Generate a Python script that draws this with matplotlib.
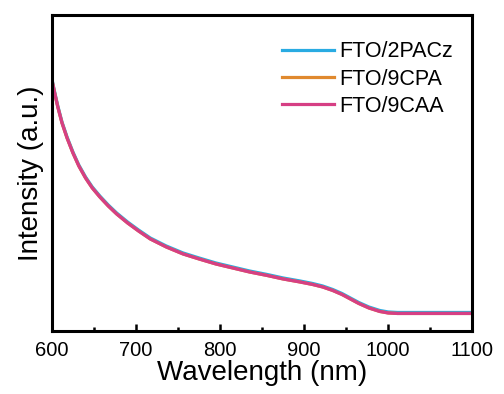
import numpy as np
import matplotlib.pyplot as plt
from matplotlib.ticker import MultipleLocator

plt.rcParams['font.family'] = ['Liberation Sans', 'DejaVu Sans']

# spectra (arbitrary units)
wavelength = [600, 603, 607, 612, 618, 625, 632, 640, 648, 657, 667, 677, 690,
              703, 717, 736, 756, 775, 795, 815, 835, 856, 875, 895, 910,
              922, 934, 945, 955, 965, 977, 990, 1000, 1011, 1030, 1050,
              1075, 1100]
i_2pacz = [252, 240, 225, 209, 194, 179, 166, 154, 144, 135, 126, 118, 109,
           101, 93, 85, 78, 73, 68, 64, 60, 56.5, 53, 50, 47.5,
           45, 41.5, 37.5, 33, 28.5, 24, 20.5, 19, 18.5, 18.5, 18.5,
           18.5, 18.5]
i_9cpa = [251, 239, 224, 208, 193, 178, 165, 153, 143, 134, 125, 117, 108,
          100, 92, 84, 77, 72, 67, 63, 59, 55.5, 52, 49, 46.5,
          44, 40.5, 36.5, 32, 27.5, 23, 19.5, 18, 17.5, 17.5, 17.5,
          17.5, 17.5]
i_9caa = [251, 239, 224, 208, 193, 178, 165, 153, 143, 134, 125, 117, 108,
          100, 92, 84, 77, 72, 67, 63, 59, 55.5, 52, 49, 46.5,
          44, 40.5, 36.5, 32, 27.5, 23, 19.5, 18, 17.5, 17.5, 17.5,
          17.5, 17.5]

labels = ["FTO/2PACz", "FTO/9CPA", "FTO/9CAA"]
colors = ["#29abe2", "#e0892e", "#d63f84"]

fig = plt.figure(figsize=(5.04, 3.94), dpi=100)
ax = fig.add_axes([0.103, 0.16, 0.834, 0.802])

for ys, lab, c in zip([i_2pacz, i_9cpa, i_9caa], labels, colors):
    ax.plot(wavelength, ys, color=c, lw=2.3, label=lab,
            solid_joinstyle='round')

ax.set_xlim(600, 1100)
ax.set_ylim(0, 316)
ax.xaxis.set_major_locator(MultipleLocator(100))
ax.xaxis.set_minor_locator(MultipleLocator(50))
ax.tick_params(axis='x', which='both', direction='in', width=1.8,
               labelsize=14.5, pad=7)
ax.tick_params(axis='x', which='major', length=5)
ax.tick_params(axis='x', which='minor', length=3)
ax.set_yticks([])
for s in ax.spines.values():
    s.set_linewidth(2.2)

ax.set_xlabel("Wavelength (nm)", fontsize=20, labelpad=0)
ax.set_ylabel("Intensity (a.u.)", fontsize=20, labelpad=6)

ax.legend(loc='upper right', frameon=False, fontsize=15.5,
          handlelength=2.4, handletextpad=0.25, labelspacing=0.3,
          borderaxespad=0.3, bbox_to_anchor=(0.99, 0.965))

fig.savefig("out.png", dpi=100)
